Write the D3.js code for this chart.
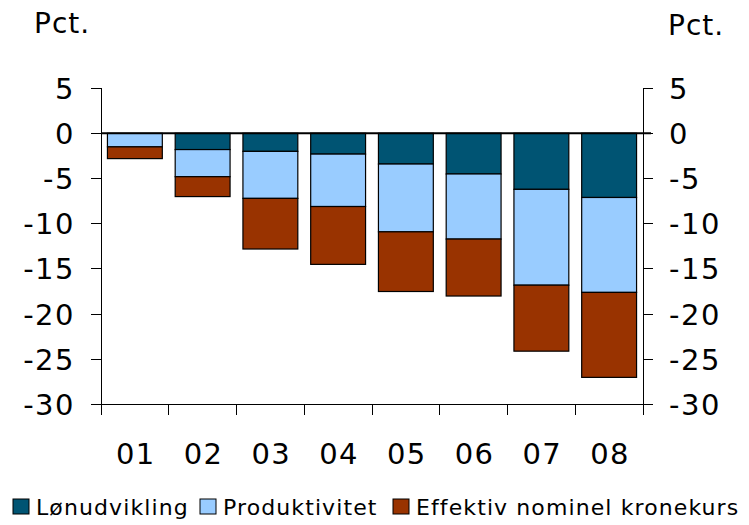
<!DOCTYPE html>
<html>
<head>
<meta charset="utf-8">
<script src="https://cdn.jsdelivr.net/npm/d3@7"></script>
<style>
  html, body { margin: 0; padding: 0; background: #fff; }
  svg { display: block; }
  text { font-family: "DejaVu Sans", Verdana, sans-serif; fill: #000; }
</style>
</head>
<body>
<div id="chart"></div>
<script>
// categories (years) and series values, pct.
const years = ["01", "02", "03", "04", "05", "06", "07", "08"];
const lonudvikling = [0, -1.8, -2.0, -2.3, -3.4, -4.5, -6.2, -7.1];
const produktivitet = [-1.5, -3.0, -5.2, -5.8, -7.5, -7.2, -10.6, -10.5];
const kronekurs = [-1.3, -2.2, -5.6, -6.4, -6.6, -6.3, -7.3, -9.4];
const seriesNames = ["Lønudvikling", "Produktivitet", "Effektiv nominel kronekurs"];
const yTicks = [5, 0, -5, -10, -15, -20, -25, -30];

const colors = ["#005473", "#99ccff", "#993300"];

const width = 749, height = 525;
const svg = d3.select("#chart").append("svg")
  .attr("width", width)
  .attr("height", height);

const left = 101, right = 643;

const x = d3.scaleBand()
  .domain(years)
  .range([left, right])
  .paddingInner(0.19)
  .paddingOuter(0.095);

const y = d3.scaleLinear()
  .domain([-30, 5])
  .range([404.5, 88.1]);

// build rows for the stack
const rows = years.map((yr, i) => ({
  year: yr,
  [seriesNames[0]]: lonudvikling[i],
  [seriesNames[1]]: produktivitet[i],
  [seriesNames[2]]: kronekurs[i]
}));

const stacked = d3.stack()
  .keys(seriesNames)
  .offset(d3.stackOffsetDiverging)(rows);

// bars (all negative, so d[1] is the top)
svg.append("g").selectAll("g")
  .data(stacked)
  .join("g")
  .attr("fill", (d, i) => colors[i])
  .selectAll("rect")
  .data(d => d.filter(v => v[1] !== v[0]))
  .join("rect")
  .attr("x", d => x(d.data.year))
  .attr("y", d => y(Math.max(d[0], d[1])))
  .attr("width", x.bandwidth())
  .attr("height", d => Math.abs(y(d[0]) - y(d[1])))
  .attr("stroke", "#000")
  .attr("stroke-width", 1.2);

// axes
const axisG = svg.append("g").attr("stroke", "#000").attr("shape-rendering", "crispEdges");
axisG.append("line")
  .attr("x1", left).attr("x2", left)
  .attr("y1", y(5)).attr("y2", y(-30));
axisG.append("line")
  .attr("x1", right).attr("x2", right)
  .attr("y1", y(5)).attr("y2", y(-30));
yTicks.forEach(t => {
  axisG.append("line").attr("x1", left - 10).attr("x2", left).attr("y1", y(t)).attr("y2", y(t));
  axisG.append("line").attr("x1", right).attr("x2", right + 10).attr("y1", y(t)).attr("y2", y(t));
});
// bottom line
axisG.append("line")
  .attr("x1", left).attr("x2", right + 10)
  .attr("y1", y(-30)).attr("y2", y(-30));
// category ticks
const bounds = years.map(d => x(d) - x.step() * x.paddingInner() / 2).concat([right]);
bounds[0] = left;
bounds.forEach(b => {
  axisG.append("line").attr("x1", b).attr("x2", b).attr("y1", y(-30)).attr("y2", y(-30) + 10);
});

// zero line
svg.append("line")
  .attr("x1", left).attr("x2", right + 8)
  .attr("y1", y(0)).attr("y2", y(0))
  .attr("stroke", "#000")
  .attr("stroke-width", 2);

// tick labels
svg.append("g").selectAll("text")
  .data(yTicks)
  .join("text")
  .attr("x", 75)
  .attr("y", d => y(d))
  .attr("dy", "0.36em")
  .attr("text-anchor", "end")
  .attr("font-size", 29)
  .attr("letter-spacing", 1.5)
  .text(d => d);

svg.append("g").selectAll("text")
  .data(yTicks)
  .join("text")
  .attr("x", 669)
  .attr("y", d => y(d))
  .attr("dy", "0.36em")
  .attr("text-anchor", "start")
  .attr("font-size", 29)
  .attr("letter-spacing", 1.5)
  .text(d => d);

svg.append("g").selectAll("text")
  .data(years)
  .join("text")
  .attr("x", d => x(d) + x.bandwidth() / 2 + 1)
  .attr("y", 464)
  .attr("text-anchor", "middle")
  .attr("font-size", 29)
  .attr("letter-spacing", 1.5)
  .text(d => d);

// Pct. labels
svg.append("text").attr("x", 34).attr("y", 33).attr("font-size", 28).attr("letter-spacing", 1).text("Pct.");
svg.append("text").attr("x", 668).attr("y", 35).attr("font-size", 28).attr("letter-spacing", 1).text("Pct.");

// legend
const legendX = [13, 200, 393];
const legend = svg.append("g");
seriesNames.forEach((name, i) => {
  legend.append("rect")
    .attr("x", legendX[i]).attr("y", 499)
    .attr("width", 16).attr("height", 15)
    .attr("fill", colors[i])
    .attr("stroke", "#000")
    .attr("stroke-width", 1);
  legend.append("text")
    .attr("x", legendX[i] + 23)
    .attr("y", 515)
    .attr("font-size", 22)
    .attr("letter-spacing", 1.1)
    .text(name);
});
</script>
</body>
</html>
